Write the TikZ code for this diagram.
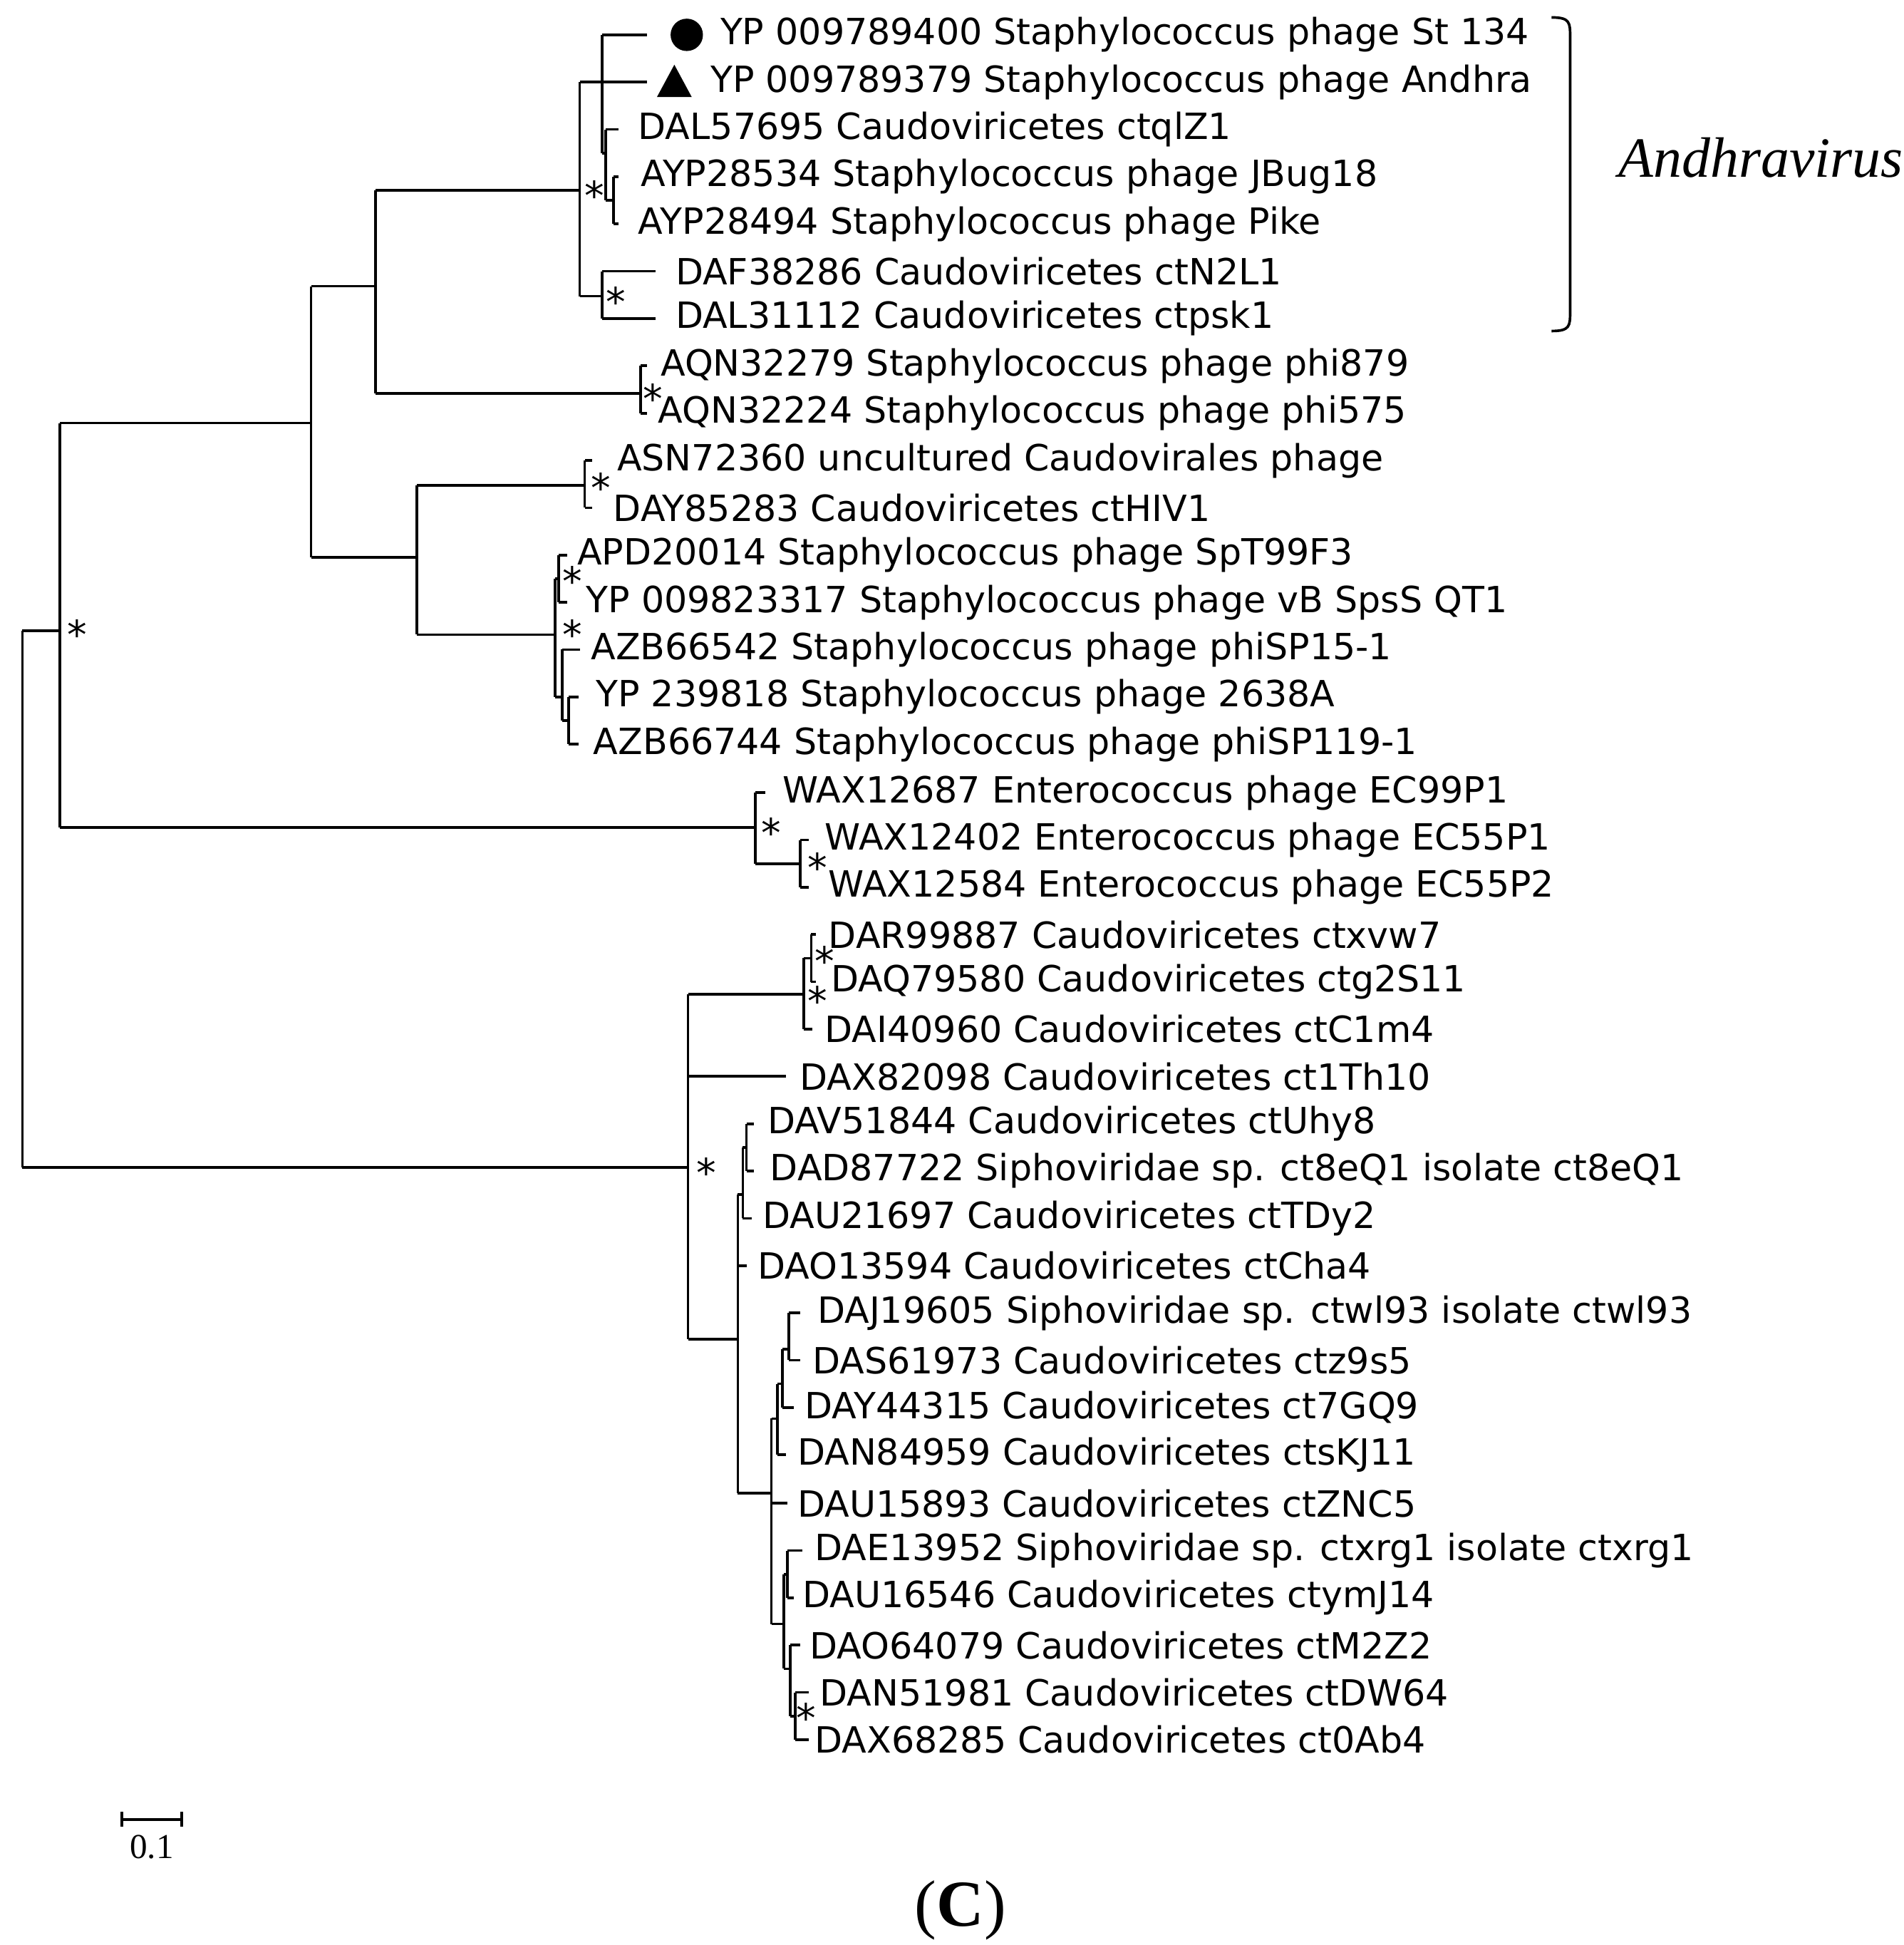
\documentclass[tikz,border=0pt]{standalone}
\usepackage{fontspec}
\setmainfont{Liberation Serif}
\newfontfamily\lab{DejaVu Sans}
\begin{document}
\begin{tikzpicture}[x=0.01cm,y=-0.01cm,line width=0.6pt,
  leaf/.style={anchor=west,inner sep=0pt,font=\lab\fontsize{8.25}{9}\selectfont},
  ast/.style={inner sep=0pt,font=\lab\fontsize{9}{9}\selectfont}]
\useasboundingbox (0,0) rectangle (1530,1563);
% root and top clades
\draw (18,507)--(18,938) (18,507)--(48,507) (18,938)--(553,938);
\draw (48,340)--(48,665) (48,340)--(250,340) (48,665)--(607,665);
\draw (250,230)--(250,448) (250,230)--(302,230) (250,448)--(335,448);
\draw (302,153)--(302,316) (302,153)--(466,153) (302,316)--(515,316);
\draw (466,66)--(466,238) (466,66)--(520,66);
\draw (484,28)--(484,123) (484,28)--(520,28) (484,123)--(487,123);
\draw (487,104)--(487,161) (487,104)--(497,104) (487,161)--(493,161);
\draw (493,142)--(493,180) (493,142)--(497,142) (493,180)--(497,180);
\draw (484,218)--(484,256) (466,238)--(484,238) (484,218)--(527,218) (484,256)--(527,256);
\draw (515,294)--(515,332) (515,294)--(520,294) (515,332)--(520,332);
\draw (335,390)--(335,510) (335,390)--(470,390) (335,510)--(446,510);
\draw (470,370)--(470,408) (470,370)--(476,370) (470,408)--(476,408);
\draw (446,465)--(446,560) (446,465)--(449,465) (446,560)--(452,560);
\draw (449,446)--(449,484) (449,446)--(456,446) (449,484)--(456,484);
\draw (452,522)--(452,579) (452,522)--(466,522) (452,579)--(457,579);
\draw (457,560)--(457,598) (457,560)--(465,560) (457,598)--(465,598);
\draw (607,637)--(607,694) (607,637)--(615,637) (607,694)--(643,694);
\draw (643,675)--(643,713) (643,675)--(650,675) (643,713)--(650,713);
% bottom clade
\draw (553,799)--(553,1076) (553,799)--(646,799) (553,865)--(632,865) (553,1076)--(593,1076);
\draw (646,770)--(646,827) (646,770)--(652,770) (646,827)--(653,827);
\draw (652,751)--(652,789) (652,751)--(656,751) (652,789)--(656,789);
\draw (593,960)--(593,1200) (593,960)--(597,960) (593,1017)--(600,1017) (593,1200)--(620,1200);
\draw (597,922)--(597,979) (597,922)--(600,922) (597,979)--(604,979);
\draw (600,903)--(600,941) (600,903)--(606,903) (600,941)--(606,941);
\draw (620,1140)--(620,1305) (620,1140)--(625,1140) (620,1208)--(633,1208) (620,1305)--(630,1305);
\draw (625,1112)--(625,1169) (625,1112)--(629,1112) (625,1169)--(632,1169);
\draw (629,1084)--(629,1131) (629,1084)--(634,1084) (629,1131)--(638,1131);
\draw (634,1055)--(634,1093) (634,1055)--(643,1055) (634,1093)--(643,1093);
\draw (630,1265)--(630,1341) (630,1265)--(633,1265) (630,1341)--(635,1341);
\draw (633,1246)--(633,1284) (633,1246)--(645,1246) (633,1284)--(638,1284);
\draw (635,1322)--(635,1379) (635,1322)--(643,1322) (635,1379)--(639,1379);
\draw (639,1360)--(639,1398) (639,1360)--(650,1360) (639,1398)--(650,1398);
% asterisks
\foreach \p [count=\i] in {(62,510),(478,157),(495,242),(525,320),(483,392),(460,467),(460,510),(620,669),(657,697),(568,942),(663,772),(657,804),(648,1380)}
  \node[ast] (s\i) at \p {*};
% markers
\fill (552,28) circle (13);
\fill (528,78)--(556,78)--(542,52)--cycle;
% leaves
\node[leaf] (l1) at (578,28) {YP 009789400 Staphylococcus phage St 134};
\node[leaf] (l2) at (570,66) {YP 009789379 Staphylococcus phage Andhra};
\node[leaf] (l3) at (512,104) {DAL57695 Caudoviricetes ctqlZ1};
\node[leaf] (l4) at (514,142) {AYP28534 Staphylococcus phage JBug18};
\node[leaf] (l5) at (512,180) {AYP28494 Staphylococcus phage Pike};
\node[leaf] (l6) at (542,218) {DAF38286 Caudoviricetes ctN2L1};
\node[leaf] (l7) at (542,256) {DAL31112 Caudoviricetes ctpsk1};
\node[leaf] (l8) at (530,294) {AQN32279 Staphylococcus phage phi879};
\node[leaf] (l9) at (528,332) {AQN32224 Staphylococcus phage phi575};
\node[leaf] (l10) at (495,370) {ASN72360 uncultured Caudovirales phage};
\node[leaf] (l11) at (492,408) {DAY85283 Caudoviricetes ctHIV1};
\node[leaf] (l12) at (463,446) {APD20014 Staphylococcus phage SpT99F3};
\node[leaf] (l13) at (470,484) {YP 009823317 Staphylococcus phage vB SpsS QT1};
\node[leaf] (l14) at (474,522) {AZB66542 Staphylococcus phage phiSP15-1};
\node[leaf] (l15) at (478,560) {YP 239818 Staphylococcus phage 2638A};
\node[leaf] (l16) at (476,598) {AZB66744 Staphylococcus phage phiSP119-1};
\node[leaf] (l17) at (628,637) {WAX12687 Enterococcus phage EC99P1};
\node[leaf] (l18) at (662,675) {WAX12402 Enterococcus phage EC55P1};
\node[leaf] (l19) at (665,713) {WAX12584 Enterococcus phage EC55P2};
\node[leaf] (l20) at (665,751) {DAR99887 Caudoviricetes ctxvw7};
\node[leaf] (l21) at (667,789) {DAQ79580 Caudoviricetes ctg2S11};
\node[leaf] (l22) at (662,827) {DAI40960 Caudoviricetes ctC1m4};
\node[leaf] (l23) at (642,865) {DAX82098 Caudoviricetes ct1Th10};
\node[leaf] (l24) at (616,903) {DAV51844 Caudoviricetes ctUhy8};
\node[leaf] (l25) at (618,941) {DAD87722 Siphoviridae sp. ct8eQ1 isolate ct8eQ1};
\node[leaf] (l26) at (612,979) {DAU21697 Caudoviricetes ctTDy2};
\node[leaf] (l27) at (608,1017) {DAO13594 Caudoviricetes ctCha4};
\node[leaf] (l28) at (656,1055) {DAJ19605 Siphoviridae sp. ctwl93 isolate ctwl93};
\node[leaf] (l29) at (652,1093) {DAS61973 Caudoviricetes ctz9s5};
\node[leaf] (l30) at (646,1131) {DAY44315 Caudoviricetes ct7GQ9};
\node[leaf] (l31) at (640,1169) {DAN84959 Caudoviricetes ctsKJ11};
\node[leaf] (l32) at (640,1208) {DAU15893 Caudoviricetes ctZNC5};
\node[leaf] (l33) at (654,1246) {DAE13952 Siphoviridae sp. ctxrg1 isolate ctxrg1};
\node[leaf] (l34) at (644,1284) {DAU16546 Caudoviricetes ctymJ14};
\node[leaf] (l35) at (650,1322) {DAO64079 Caudoviricetes ctM2Z2};
\node[leaf] (l36) at (658,1360) {DAN51981 Caudoviricetes ctDW64};
\node[leaf] (l37) at (654,1398) {DAX68285 Caudoviricetes ct0Ab4};
% Andhravirus bracket
\draw (1247,14) .. controls (1262,14) and (1262,18) .. (1262,30) -- (1262,250) .. controls (1262,262) and (1262,266) .. (1247,266);
\node[anchor=west,inner sep=0pt,font=\fontsize{13}{13}\selectfont\itshape] (and) at (1300,127) {Andhravirus};
% scale bar
\draw (98,1462)--(146,1462) (98,1456)--(98,1468) (146,1456)--(146,1468);
\node[inner sep=0pt,font=\fontsize{8}{8}\selectfont] (sb) at (122,1484) {0.1};
\node[inner sep=0pt,font=\fontsize{15}{15}\selectfont] (cap) at (772,1535) {(\textbf{C})};
\end{tikzpicture}
\end{document}
